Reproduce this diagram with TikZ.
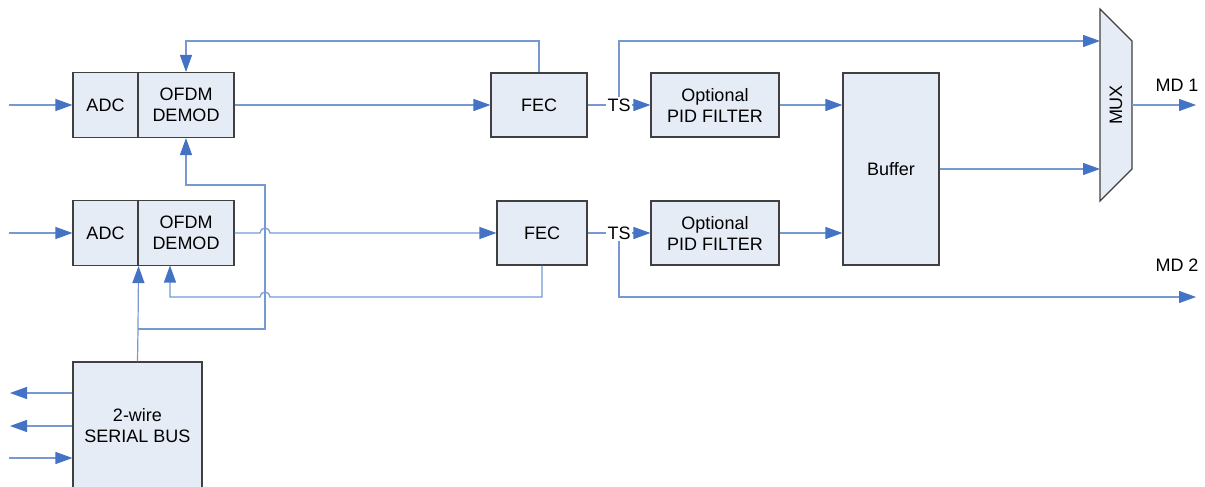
\documentclass[tikz,border=0pt]{standalone}
\usepackage{fontspec}
\setmainfont{Liberation Sans}
\usetikzlibrary{arrows.meta}
\definecolor{boxfill}{RGB}{230,236,246}
\definecolor{boxline}{RGB}{64,64,64}
\definecolor{wire}{RGB}{118,153,212}
\definecolor{tip}{RGB}{68,114,196}
\begin{document}
\begin{tikzpicture}[x=1pt,y=-1pt,
	block/.style={rectangle,draw=boxline,line width=1.1pt,fill=boxfill,inner sep=0pt,align=center,font=\fontsize{18}{21}\selectfont},
	txt/.style={inner sep=1pt,font=\fontsize{18}{21}\selectfont},
	wire/.style={draw=wire,line width=1.2pt},
	arr/.style={wire,-{Triangle[length=17pt,width=12pt,color=tip]}}
]
	\useasboundingbox (0,0) rectangle (1205,487);

	\def \hop {5pt};

	% receiver chains
	\node[block,minimum width=65pt,minimum height=65pt] (adcA) at (105.5,105) {ADC};
	\node[block,minimum width=96pt,minimum height=65pt] (ofdmA) at (186,105) {OFDM\\DEMOD};
	\node[block,minimum width=65pt,minimum height=65pt] (adcB) at (105.5,233) {ADC};
	\node[block,minimum width=96pt,minimum height=65pt] (ofdmB) at (186,233) {OFDM\\DEMOD};

	\node[block,minimum width=96pt,minimum height=64pt] (fecA) at (539,105) {FEC};
	\node[block,minimum width=90pt,minimum height=64pt] (fecB) at (542,233) {FEC};

	\node[txt] (tsA) at (619,105) {TS};
	\node[txt] (tsB) at (619,233) {TS};

	\node[block,minimum width=128pt,minimum height=64pt] (pidA) at (715,105) {Optional\\PID FILTER};
	\node[block,minimum width=128pt,minimum height=64pt] (pidB) at (715,233) {Optional\\PID FILTER};

	\node[block,minimum width=96pt,minimum height=192pt] (buf) at (891,169) {Buffer};

	\node[block,minimum width=129pt,minimum height=128pt] (bus) at (137.5,426) {2-wire\\SERIAL BUS};

	% mux
	\draw[boxline,line width=1.1pt,fill=boxfill] (1100,9) -- (1132,41) -- (1132,169) -- (1100,201) -- cycle;
	\node[txt,rotate=90] (mux) at (1116,105) {MUX};
	\coordinate (muxA) at (1100,41);
	\coordinate (muxB) at (1100,169);
	\coordinate (muxO) at (1132,105);

	\node[txt] (mdA) at (1177,85) {MD 1};
	\node[txt] (mdB) at (1177,265) {MD 2};

	% free ends
	\coordinate (inA) at (9,105);
	\coordinate (inB) at (9,233);
	\coordinate (outA) at (1196,105);
	\coordinate (outB) at (1196,297);
	\coordinate (fbA) at (539,41);
	\coordinate (fbB) at (542,297);
	\coordinate (junc) at (138,329);
	\coordinate (ctlA) at (265,329);
	\coordinate (ctlB) at (265,185);

	% signal path
	\draw[arr] (inA) -- (adcA);
	\draw[arr] (inB) -- (adcB);
	\draw[arr] (ofdmA) -- (fecA);
	\draw[arr] (ofdmB.east) -- (260,233) arc (180:0:\hop) -- (fecB.west);
	\draw[wire] (fecA) -- (tsA);
	\draw[wire] (fecB) -- (tsB);
	\draw[arr] (tsA) -- (pidA);
	\draw[arr] (tsB) -- (pidB);
	\draw[arr] (pidA.east) -- (pidA.east -| buf.west);
	\draw[arr] (pidB.east) -- (pidB.east -| buf.west);
	\draw[arr] (buf.east |- muxB) -- (muxB);
	\draw[arr] (tsA.north) |- (muxA);
	\draw[arr] (tsB.south) |- (outB);
	\draw[arr] (muxO) -- (outA);

	% feedback
	\draw[arr] (fecA.north) -- (fbA) -| (ofdmA.north);
	\draw[arr] (fecB.south) -- (fbB) -- (270,297) arc (0:180:\hop) -- (170,297) -- (170,265.5);

	% control bus
	\draw[wire] (bus.north) -- (junc);
	\draw[arr] (junc) -- (adcB.south east);
	\draw[arr] (junc) -- (ctlA) -- (ctlB) -| (ofdmA.south);

	\foreach \y in {393,426} {
		\draw[arr] (bus.west |- 0,\y) -- (10,\y);
	}
	\draw[arr] (9,458) -- (bus.west |- 0,458);
\end{tikzpicture}
\end{document}
